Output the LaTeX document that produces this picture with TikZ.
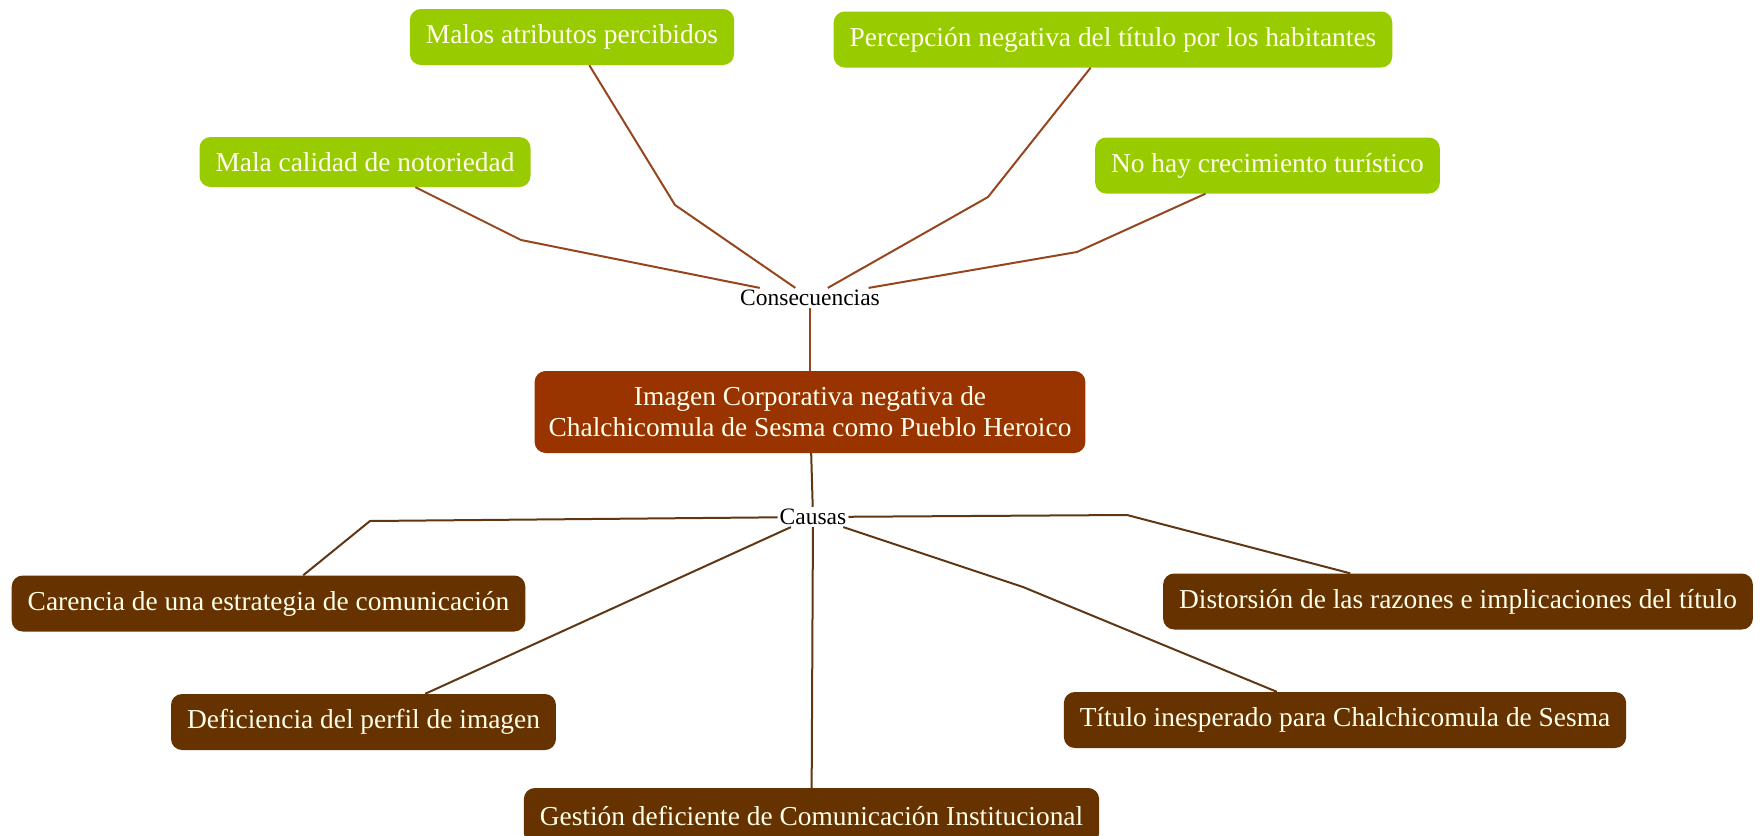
\documentclass[tikz,border=0pt]{standalone}
\usepackage{fontspec}
\setmainfont{Liberation Serif}
\usetikzlibrary{positioning}
\definecolor{verde}{RGB}{153,204,0}
\definecolor{oxido}{RGB}{153,51,0}
\definecolor{cafe}{RGB}{102,51,0}
\definecolor{crema}{RGB}{255,255,235}
\definecolor{lineaoxido}{RGB}{150,70,30}
\definecolor{lineacafe}{RGB}{95,55,20}

\begin{document}
\begin{tikzpicture}[x=1pt, y=-1pt, line join=round,
  caja/.style={rounded corners=11pt, inner xsep=16pt, inner ysep=0pt, minimum height=56pt, text=crema, font=\fontsize{27.4pt}{31pt}\selectfont},
  conseq/.style={caja, fill=verde},
  causa/.style={caja, fill=cafe},
  etiqueta/.style={inner sep=2pt, font=\fontsize{23.5pt}{28pt}\selectfont},
  rama/.style={line width=2pt, lineaoxido},
  raiz/.style={line width=2pt, lineacafe}]
\useasboundingbox (0,0) rectangle (1763,835);
\clip (0,0) rectangle (1763,835);
% centro
\node[caja, fill=oxido, align=center, minimum height=82pt, inner xsep=14pt] (imagen) at (810,412) {Imagen Corporativa negativa de\\Chalchicomula de Sesma como Pueblo Heroico};
\node[etiqueta] (cons)  at (810,298) {Consecuencias};
\node[etiqueta] (causas) at (813,517) {Causas};
% consecuencias
\node[conseq] (malos)  at (572,37)    {Malos atributos percibidos};
\node[conseq] (percep) at (1113,39.5) {Percepción negativa del título por los habitantes};
\node[conseq, minimum height=50pt] (mala) at (365,162) {Mala calidad de notoriedad};
\node[conseq] (nohay)  at (1267.5,165.5) {No hay crecimiento turístico};
% causas
\node[causa] (carencia) at (268.5,603.5) {Carencia de una estrategia de comunicación};
\node[causa] (distor)   at (1458,601.5)  {Distorsión de las razones e implicaciones del título};
\node[causa] (defic)    at (363.5,722)   {Deficiencia del perfil de imagen};
\node[causa] (titulo)   at (1345,720)    {Título inesperado para Chalchicomula de Sesma};
\node[causa] (gestion)  at (811.5,816)   {Gestión deficiente de Comunicación Institucional};
% codos
\coordinate (mala-c)     at (521,240);
\coordinate (malos-c)    at (675,205);
\coordinate (percep-c)   at (988,197);
\coordinate (nohay-c)    at (1077,252);
\coordinate (carencia-c) at (370,521);
\coordinate (distor-c)   at (1127,515);
\coordinate (titulo-c)   at (1023,587);
% ramas
\draw[rama] (mala) -- (mala-c) -- (cons);
\draw[rama] (malos) -- (malos-c) -- (cons);
\draw[rama] (percep) -- (percep-c) -- (cons);
\draw[rama] (nohay) -- (nohay-c) -- (cons);
\draw[rama] (cons) -- (imagen);
\draw[raiz] (imagen) -- (causas);
\draw[raiz] (causas) -- (carencia-c) -- (carencia);
\draw[raiz] (causas) -- (distor-c) -- (distor);
\draw[raiz] (causas) -- (defic);
\draw[raiz] (causas) -- (titulo-c) -- (titulo);
\draw[raiz] (causas) -- (gestion);
\end{tikzpicture}
\end{document}
